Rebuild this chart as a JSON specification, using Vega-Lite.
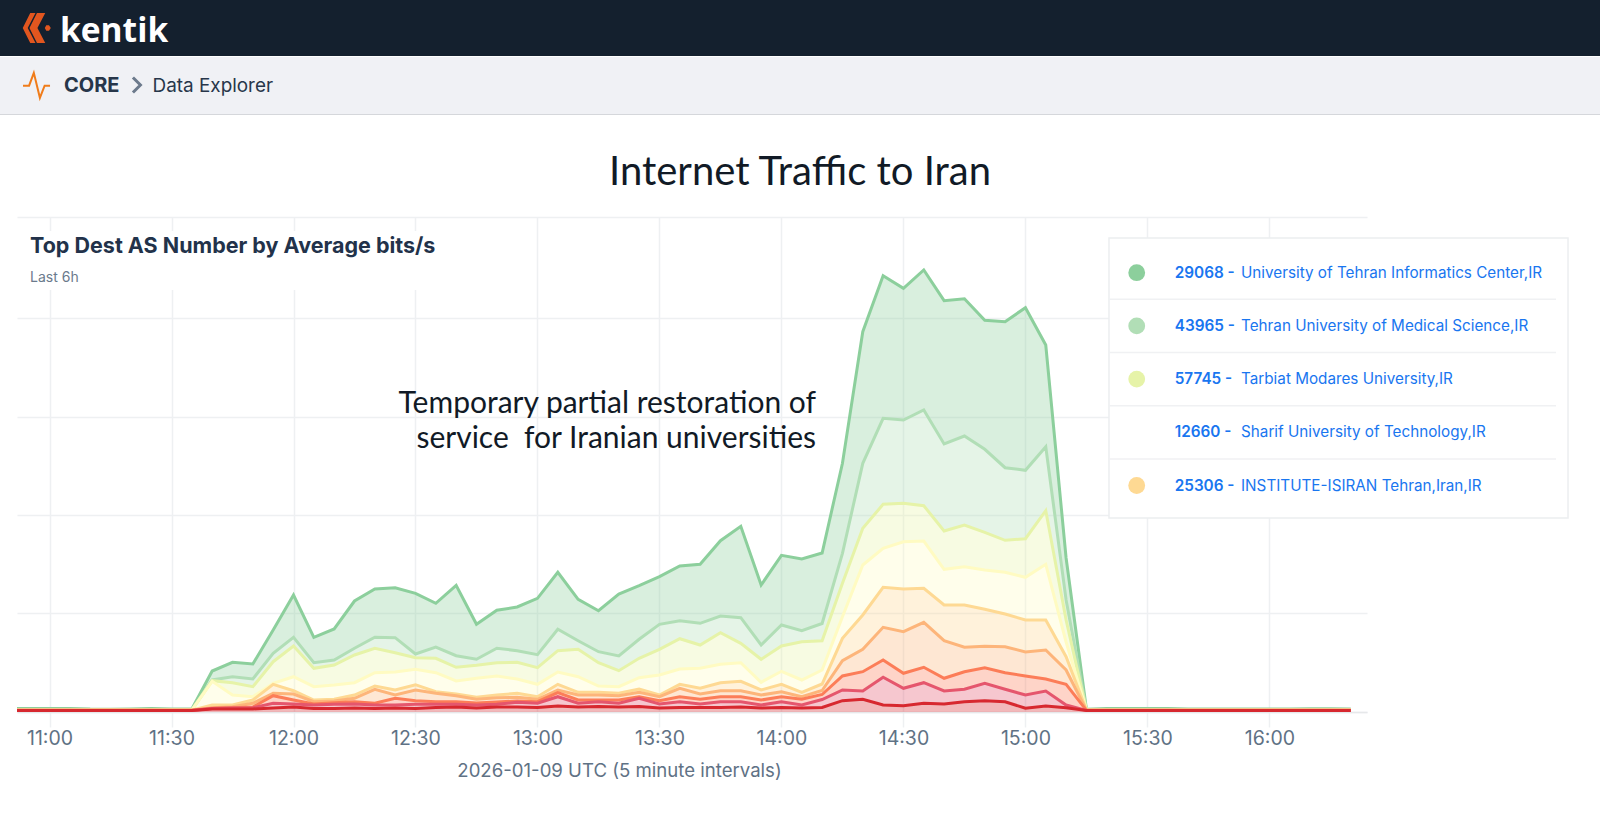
{
"$schema": "https://vega.github.io/schema/vega-lite/v6.json",
"width": 1350,
"height": 495,
"autosize": {"type": "none"},
"padding": {"left": 17, "top": 217, "right": 233, "bottom": 101},
"background": "white",
"config": {"view": {"stroke": null}, "font": "Inter"},
"datasets": {
  "page": [{"part": "page"}],
  "traffic": [
    {"time":"2026-01-09T10:50:00Z","1_29068":1.2,"2_43965":0.1,"3_57745":0.1,"4_12660":0.1,"5_25306":0.1,"6_other":0.1,"7_other":0.1,"8_other":0.1,"9_other":1.5},
    {"time":"2026-01-09T10:55:00Z","1_29068":1.2,"2_43965":0.1,"3_57745":0.1,"4_12660":0.1,"5_25306":0.1,"6_other":0.1,"7_other":0.1,"8_other":0.1,"9_other":1.5},
    {"time":"2026-01-09T11:00:00Z","1_29068":1.3,"2_43965":0.1,"3_57745":0.1,"4_12660":0.1,"5_25306":0.1,"6_other":0.1,"7_other":0.1,"8_other":0.1,"9_other":1.5},
    {"time":"2026-01-09T11:05:00Z","1_29068":1.4,"2_43965":0.1,"3_57745":0.1,"4_12660":0.1,"5_25306":0.1,"6_other":0.1,"7_other":0.1,"8_other":0.1,"9_other":1.5},
    {"time":"2026-01-09T11:10:00Z","1_29068":0.7,"2_43965":0.1,"3_57745":0.1,"4_12660":0.1,"5_25306":0.1,"6_other":0.1,"7_other":0.1,"8_other":0.1,"9_other":1.5},
    {"time":"2026-01-09T11:15:00Z","1_29068":0.6,"2_43965":0.1,"3_57745":0.1,"4_12660":0.1,"5_25306":0.1,"6_other":0.1,"7_other":0.1,"8_other":0.1,"9_other":1.5},
    {"time":"2026-01-09T11:20:00Z","1_29068":0.9,"2_43965":0.1,"3_57745":0.1,"4_12660":0.1,"5_25306":0.1,"6_other":0.1,"7_other":0.1,"8_other":0.1,"9_other":1.5},
    {"time":"2026-01-09T11:25:00Z","1_29068":1.2,"2_43965":0.1,"3_57745":0.1,"4_12660":0.1,"5_25306":0.1,"6_other":0.1,"7_other":0.1,"8_other":0.1,"9_other":1.5},
    {"time":"2026-01-09T11:30:00Z","1_29068":0.8,"2_43965":0.1,"3_57745":0.1,"4_12660":0.1,"5_25306":0.1,"6_other":0.1,"7_other":0.1,"8_other":0.1,"9_other":1.5},
    {"time":"2026-01-09T11:35:00Z","1_29068":0.8,"2_43965":0.1,"3_57745":0.1,"4_12660":0.1,"5_25306":0.1,"6_other":0.1,"7_other":0.1,"8_other":0.1,"9_other":1.5},
    {"time":"2026-01-09T11:40:00Z","1_29068":9,"2_43965":0.7,"3_57745":0.6,"4_12660":23.7,"5_25306":2.7,"6_other":0.6,"7_other":0.2,"8_other":0.5,"9_other":3},
    {"time":"2026-01-09T11:45:00Z","1_29068":14.4,"2_43965":6,"3_57745":12.3,"4_12660":10,"5_25306":1.7,"6_other":1,"7_other":0.3,"8_other":1,"9_other":3},
    {"time":"2026-01-09T11:50:00Z","1_29068":15,"2_43965":7.7,"3_57745":10,"4_12660":3.3,"5_25306":3.3,"6_other":3.7,"7_other":0.7,"8_other":1.3,"9_other":3},
    {"time":"2026-01-09T11:55:00Z","1_29068":23.3,"2_43965":8.4,"3_57745":21.6,"4_12660":1,"5_25306":9,"6_other":2.4,"7_other":7.6,"8_other":4.7,"9_other":4},
    {"time":"2026-01-09T12:00:00Z","1_29068":42.3,"2_43965":8.7,"3_57745":30.7,"4_12660":14,"5_25306":3.3,"6_other":6,"7_other":4,"8_other":3,"9_other":5},
    {"time":"2026-01-09T12:05:00Z","1_29068":25.4,"2_43965":5.6,"3_57745":18.4,"4_12660":13.3,"5_25306":1.7,"6_other":2.3,"7_other":1,"8_other":3.5,"9_other":3.5},
    {"time":"2026-01-09T12:10:00Z","1_29068":31,"2_43965":5,"3_57745":20,"4_12660":14.3,"5_25306":1.7,"6_other":1.7,"7_other":1.6,"8_other":4.2,"9_other":3.5},
    {"time":"2026-01-09T12:15:00Z","1_29068":47.3,"2_43965":6.7,"3_57745":27.7,"4_12660":12.3,"5_25306":3.3,"6_other":3.4,"7_other":2.3,"8_other":4,"9_other":4},
    {"time":"2026-01-09T12:20:00Z","1_29068":48.3,"2_43965":11,"3_57745":24.4,"4_12660":13.3,"5_25306":3.3,"6_other":14,"7_other":1.7,"8_other":3.5,"9_other":3.5},
    {"time":"2026-01-09T12:25:00Z","1_29068":50,"2_43965":15,"3_57745":19.3,"4_12660":18,"5_25306":5,"6_other":3.3,"7_other":6.7,"8_other":3,"9_other":4},
    {"time":"2026-01-09T12:30:00Z","1_29068":60.7,"2_43965":3.7,"3_57745":11.6,"4_12660":15.4,"5_25306":5.3,"6_other":10.7,"7_other":3.6,"8_other":4.2,"9_other":3.5},
    {"time":"2026-01-09T12:35:00Z","1_29068":43.7,"2_43965":11.3,"3_57745":14.4,"4_12660":19,"5_25306":1.6,"6_other":8.4,"7_other":2.6,"8_other":3.2,"9_other":4.5},
    {"time":"2026-01-09T12:40:00Z","1_29068":70.4,"2_43965":11.6,"3_57745":13.7,"4_12660":13,"5_25306":1.7,"6_other":6,"7_other":2.6,"8_other":2.7,"9_other":5},
    {"time":"2026-01-09T12:45:00Z","1_29068":35,"2_43965":6,"3_57745":13,"4_12660":19,"5_25306":2,"6_other":3.7,"7_other":2,"8_other":3,"9_other":4},
    {"time":"2026-01-09T12:50:00Z","1_29068":38,"2_43965":14.4,"3_57745":13.3,"4_12660":19,"5_25306":2.7,"6_other":4.3,"7_other":2.3,"8_other":2.7,"9_other":5},
    {"time":"2026-01-09T12:55:00Z","1_29068":43.7,"2_43965":11.6,"3_57745":16.7,"4_12660":14.3,"5_25306":4,"6_other":3.7,"7_other":1.3,"8_other":4.7,"9_other":5},
    {"time":"2026-01-09T13:00:00Z","1_29068":56.4,"2_43965":13,"3_57745":16.6,"4_12660":12.4,"5_25306":2.6,"6_other":2.4,"7_other":1.6,"8_other":4.2,"9_other":4.5},
    {"time":"2026-01-09T13:05:00Z","1_29068":57,"2_43965":21.4,"3_57745":21.3,"4_12660":12.3,"5_25306":5.7,"6_other":2.7,"7_other":4,"8_other":9.3,"9_other":6},
    {"time":"2026-01-09T13:10:00Z","1_29068":41.4,"2_43965":8.6,"3_57745":27.4,"4_12660":15.6,"5_25306":2.7,"6_other":5,"7_other":3.3,"8_other":3.7,"9_other":5},
    {"time":"2026-01-09T13:15:00Z","1_29068":41,"2_43965":11,"3_57745":23.3,"4_12660":6.3,"5_25306":2.7,"6_other":5,"7_other":1.7,"8_other":4.8,"9_other":5.5},
    {"time":"2026-01-09T13:20:00Z","1_29068":62,"2_43965":14.7,"3_57745":16,"4_12660":6.6,"5_25306":2.4,"6_other":4.3,"7_other":3.3,"8_other":3.7,"9_other":5},
    {"time":"2026-01-09T13:25:00Z","1_29068":53.6,"2_43965":19,"3_57745":19.4,"4_12660":11.3,"5_25306":3.3,"6_other":4.4,"7_other":1.6,"8_other":8.2,"9_other":5.5},
    {"time":"2026-01-09T13:30:00Z","1_29068":47.6,"2_43965":25,"3_57745":25.7,"4_12660":20,"5_25306":1.7,"6_other":4,"7_other":3.3,"8_other":4,"9_other":4},
    {"time":"2026-01-09T13:35:00Z","1_29068":54.7,"2_43965":18,"3_57745":30.3,"4_12660":15.3,"5_25306":4,"6_other":8.4,"7_other":5,"8_other":5.8,"9_other":4.5},
    {"time":"2026-01-09T13:40:00Z","1_29068":59,"2_43965":21.7,"3_57745":23.3,"4_12660":20,"5_25306":5.7,"6_other":5.3,"7_other":4.7,"8_other":3.5,"9_other":4.5},
    {"time":"2026-01-09T13:45:00Z","1_29068":75.3,"2_43965":16.7,"3_57745":31.6,"4_12660":18.4,"5_25306":8,"6_other":6,"7_other":5,"8_other":5.8,"9_other":4.5},
    {"time":"2026-01-09T13:50:00Z","1_29068":91.4,"2_43965":25.6,"3_57745":19.4,"4_12660":18.6,"5_25306":9.4,"6_other":6,"7_other":5,"8_other":5.3,"9_other":5},
    {"time":"2026-01-09T13:55:00Z","1_29068":60,"2_43965":14.3,"3_57745":23,"4_12660":7.7,"5_25306":5,"6_other":5,"7_other":5,"8_other":3,"9_other":4},
    {"time":"2026-01-09T14:00:00Z","1_29068":69.7,"2_43965":21,"3_57745":25.3,"4_12660":13,"5_25306":7.4,"6_other":5,"7_other":5,"8_other":5.8,"9_other":4.5},
    {"time":"2026-01-09T14:05:00Z","1_29068":71.7,"2_43965":11,"3_57745":38.3,"4_12660":12.3,"5_25306":4.4,"6_other":2.6,"7_other":5.7,"8_other":3,"9_other":4},
    {"time":"2026-01-09T14:10:00Z","1_29068":70.5,"2_43965":17.2,"3_57745":29.3,"4_12660":14,"5_25306":6.5,"6_other":4,"7_other":5,"8_other":8,"9_other":4.5},
    {"time":"2026-01-09T14:15:00Z","1_29068":90,"2_43965":30,"3_57745":33.4,"4_12660":21.6,"5_25306":22.4,"6_other":15.3,"7_other":14,"8_other":10.7,"9_other":11.3},
    {"time":"2026-01-09T14:20:00Z","1_29068":131.6,"2_43965":65,"3_57745":36.7,"4_12660":50,"5_25306":34.3,"6_other":22.4,"7_other":19.3,"8_other":8.3,"9_other":12.7},
    {"time":"2026-01-09T14:25:00Z","1_29068":142.6,"2_43965":86,"3_57745":44,"4_12660":39,"5_25306":40,"6_other":32.7,"7_other":17.3,"8_other":27.7,"9_other":7},
    {"time":"2026-01-09T14:30:00Z","1_29068":131.7,"2_43965":83.3,"3_57745":38.4,"4_12660":47.3,"5_25306":42.7,"6_other":41.6,"7_other":15,"8_other":17.4,"9_other":6.3},
    {"time":"2026-01-09T14:35:00Z","1_29068":140,"2_43965":95.7,"3_57745":35.3,"4_12660":47.3,"5_25306":34,"6_other":45,"7_other":15.4,"8_other":20.6,"9_other":8.7},
    {"time":"2026-01-09T14:40:00Z","1_29068":143.3,"2_43965":87,"3_57745":38.3,"4_12660":35.7,"5_25306":35.7,"6_other":37.6,"7_other":12.7,"8_other":13,"9_other":8},
    {"time":"2026-01-09T14:45:00Z","1_29068":137.3,"2_43965":89,"3_57745":41.7,"4_12660":38.3,"5_25306":42.3,"6_other":24.4,"7_other":17.6,"8_other":12.4,"9_other":10.3},
    {"time":"2026-01-09T14:50:00Z","1_29068":129,"2_43965":83,"3_57745":37.7,"4_12660":39.3,"5_25306":37,"6_other":21.4,"7_other":15.6,"8_other":17.4,"9_other":11.3},
    {"time":"2026-01-09T14:55:00Z","1_29068":146,"2_43965":72.6,"3_57745":32,"4_12660":41.7,"5_25306":32.7,"6_other":26,"7_other":16.6,"8_other":12.4,"9_other":10.3},
    {"time":"2026-01-09T15:00:00Z","1_29068":162.6,"2_43965":68.4,"3_57745":38.6,"4_12660":42.7,"5_25306":32,"6_other":24,"7_other":19,"8_other":13.3,"9_other":3.7},
    {"time":"2026-01-09T15:05:00Z","1_29068":101.7,"2_43965":64,"3_57745":53.6,"4_12660":55.7,"5_25306":30,"6_other":29,"7_other":12,"8_other":15,"9_other":6},
    {"time":"2026-01-09T15:10:00Z","1_29068":42,"2_43965":20,"3_57745":22,"4_12660":14.7,"5_25306":13.3,"6_other":14.3,"7_other":20.7,"8_other":2.7,"9_other":4.3},
    {"time":"2026-01-09T15:15:00Z","1_29068":0.5,"2_43965":0.1,"3_57745":0.1,"4_12660":0.1,"5_25306":0.1,"6_other":0.1,"7_other":0.1,"8_other":0.1,"9_other":1.5},
    {"time":"2026-01-09T15:20:00Z","1_29068":1.2,"2_43965":0.1,"3_57745":0.1,"4_12660":0.1,"5_25306":0.1,"6_other":0.1,"7_other":0.1,"8_other":0.1,"9_other":1.5},
    {"time":"2026-01-09T15:25:00Z","1_29068":1.3,"2_43965":0.1,"3_57745":0.1,"4_12660":0.1,"5_25306":0.1,"6_other":0.1,"7_other":0.1,"8_other":0.1,"9_other":1.5},
    {"time":"2026-01-09T15:30:00Z","1_29068":1.3,"2_43965":0.1,"3_57745":0.1,"4_12660":0.1,"5_25306":0.1,"6_other":0.1,"7_other":0.1,"8_other":0.1,"9_other":1.5},
    {"time":"2026-01-09T15:35:00Z","1_29068":1.2,"2_43965":0.1,"3_57745":0.1,"4_12660":0.1,"5_25306":0.1,"6_other":0.1,"7_other":0.1,"8_other":0.1,"9_other":1.5},
    {"time":"2026-01-09T15:40:00Z","1_29068":0.9,"2_43965":0.1,"3_57745":0.1,"4_12660":0.1,"5_25306":0.1,"6_other":0.1,"7_other":0.1,"8_other":0.1,"9_other":1.5},
    {"time":"2026-01-09T15:45:00Z","1_29068":0.8,"2_43965":0.1,"3_57745":0.1,"4_12660":0.1,"5_25306":0.1,"6_other":0.1,"7_other":0.1,"8_other":0.1,"9_other":1.5},
    {"time":"2026-01-09T15:50:00Z","1_29068":0.8,"2_43965":0.1,"3_57745":0.1,"4_12660":0.1,"5_25306":0.1,"6_other":0.1,"7_other":0.1,"8_other":0.1,"9_other":1.5},
    {"time":"2026-01-09T15:55:00Z","1_29068":0.9,"2_43965":0.1,"3_57745":0.1,"4_12660":0.1,"5_25306":0.1,"6_other":0.1,"7_other":0.1,"8_other":0.1,"9_other":1.5},
    {"time":"2026-01-09T16:00:00Z","1_29068":0.8,"2_43965":0.1,"3_57745":0.1,"4_12660":0.1,"5_25306":0.1,"6_other":0.1,"7_other":0.1,"8_other":0.1,"9_other":1.5},
    {"time":"2026-01-09T16:05:00Z","1_29068":0.9,"2_43965":0.1,"3_57745":0.1,"4_12660":0.1,"5_25306":0.1,"6_other":0.1,"7_other":0.1,"8_other":0.1,"9_other":1.5},
    {"time":"2026-01-09T16:10:00Z","1_29068":1.1,"2_43965":0.1,"3_57745":0.1,"4_12660":0.1,"5_25306":0.1,"6_other":0.1,"7_other":0.1,"8_other":0.1,"9_other":1.5},
    {"time":"2026-01-09T16:15:00Z","1_29068":1.0,"2_43965":0.1,"3_57745":0.1,"4_12660":0.1,"5_25306":0.1,"6_other":0.1,"7_other":0.1,"8_other":0.1,"9_other":1.5},
    {"time":"2026-01-09T16:20:00Z","1_29068":0.8,"2_43965":0.1,"3_57745":0.1,"4_12660":0.1,"5_25306":0.1,"6_other":0.1,"7_other":0.1,"8_other":0.1,"9_other":1.5}
  ],
  "legendRows": [
    {"series":"1_29068","asn":"29068 -","name":"University of Tehran Informatics Center,IR"},
    {"series":"2_43965","asn":"43965 -","name":"Tehran University of Medical Science,IR"},
    {"series":"3_57745","asn":"57745 -","name":"Tarbiat Modares University,IR"},
    {"series":"4_12660","asn":"12660 -","name":"Sharif University of Technology,IR"},
    {"series":"5_25306","asn":"25306 -","name":"INSTITUTE-ISIRAN Tehran,Iran,IR"}
  ]
},
"layer": [
  {
    "data": {"name": "traffic"},
    "transform": [
      {"fold": ["1_29068","2_43965","3_57745","4_12660","5_25306","6_other","7_other","8_other","9_other"], "as": ["series","bits"]}
    ],
    "encoding": {
      "x": {"field": "time", "type": "temporal",
        "scale": {"type": "utc", "nice": false, "domain": [1767955920000, 1767975840000]},
        "axis": {"title": "2026-01-09 UTC (5 minute intervals)", "titleFont": "Inter", "titleFontSize": 18.6, "titleFontWeight": 400, "titleColor": "#5f7285", "titleX": 602, "titleY": 49, "titleAnchor": "middle", "format": "%H:%M", "values": [1767956400000, 1767958200000, 1767960000000, 1767961800000, 1767963600000, 1767965400000, 1767967200000, 1767969000000, 1767970800000, 1767972600000, 1767974400000], "grid": true, "gridColor": "#eef0f2", "gridWidth": 1.5, "tickColor": "#eef0f2", "tickWidth": 1.5, "tickSize": 15, "domainColor": "#e6e8ea", "domainWidth": 1.5, "labelFont": "Inter", "labelFontSize": 19.5, "labelColor": "#5f7285", "labelPadding": 2, "labelFlush": false}},
      "y": {"field": "bits", "type": "quantitative", "stack": "zero",
        "scale": {"nice": false, "zero": false, "domain": [0, 495]},
        "axis": {"title": null, "labels": false, "ticks": false, "domain": false, "values": [0, 98.5, 197, 295.5, 394, 495], "grid": true, "gridColor": "#eef0f2", "gridWidth": 1.5}},
      "color": {"field": "series", "type": "nominal", "legend": null,
        "scale": {"domain": ["1_29068","2_43965","3_57745","4_12660","5_25306","6_other","7_other","8_other","9_other"],
          "range": ["#8ccf9c","#b1deb6","#e6f3a8","#fffbc2","#fed993","#fdb57a","#fc7d58","#e5566d","#d7282f"]}}
    },
    "layer": [
      {"mark": {"type": "area", "opacity": 0.33, "clip": true}},
      {"mark": {"type": "line", "strokeWidth": 3, "clip": true}}
    ]
  },
  {
    "data": {"name": "page"},
    "mark": {"type": "rect", "color": "#14202e"},
    "encoding": {
      "x": {"datum": 1767955669000, "type": "temporal"},
      "x2": {"datum": 1767979278000},
      "y": {"datum": 712, "type": "quantitative"},
      "y2": {"datum": 656}
    }
  },
  {
    "data": {"name": "page"},
    "mark": {"type": "rect", "color": "#f0f1f5"},
    "encoding": {
      "x": {"datum": 1767955669000, "type": "temporal"},
      "x2": {"datum": 1767979278000},
      "y": {"datum": 655, "type": "quantitative"},
      "y2": {"datum": 598}
    }
  },
  {
    "data": {"name": "page"},
    "mark": {"type": "rule", "color": "#d5d7db", "strokeWidth": 1.2},
    "encoding": {
      "x": {"datum": 1767955669000, "type": "temporal"},
      "x2": {"datum": 1767979278000},
      "y": {"datum": 597.5, "type": "quantitative"}
    }
  },
  {
    "data": {"name": "page"},
    "mark": {"type": "point", "filled": true, "color": "#e2561f", "opacity": 1, "size": 900, "shape": "M-0.45 -1 L-0.1 -1 L-0.62 0 L-0.1 1 L-0.45 1 L-0.95 0 Z M0 -1 L0.55 -1 L0.03 0 L0.55 1 L0 1 L-0.5 0 Z M0.62 -0.18 L0.8 -0.18 L0.92 0 L0.8 0.18 L0.62 0.18 L0.52 0 Z"},
    "encoding": {
      "x": {"datum": 1767956215000, "type": "temporal"},
      "y": {"datum": 684, "type": "quantitative"}
    }
  },
  {
    "data": {"values": [{"label": "kentik"}]},
    "mark": {"type": "text", "align": "left", "baseline": "alphabetic", "font": "Open Sans", "fontSize": 33.5, "fontWeight": 700, "color": "white"},
    "encoding": {
      "x": {"datum": 1767956555000, "type": "temporal"},
      "y": {"datum": 670, "type": "quantitative"},
      "text": {"field": "label"}
    }
  },
  {
    "data": {"name": "page"},
    "mark": {"type": "point", "filled": false, "stroke": "#f07c1a", "strokeWidth": 2, "opacity": 1, "size": 729, "shape": "M-1 0.05 L-0.55 0.05 L-0.2 -0.9 L0.25 0.95 L0.6 0.05 L1 0.05"},
    "encoding": {
      "x": {"datum": 1767956208000, "type": "temporal"},
      "y": {"datum": 627, "type": "quantitative"}
    }
  },
  {
    "data": {"values": [{"label": "CORE"}]},
    "mark": {"type": "text", "align": "left", "baseline": "alphabetic", "font": "Inter", "fontSize": 20, "fontWeight": 700, "color": "#27364a"},
    "encoding": {
      "x": {"datum": 1767956613000, "type": "temporal"},
      "y": {"datum": 620, "type": "quantitative"},
      "text": {"field": "label"}
    }
  },
  {
    "data": {"name": "page"},
    "mark": {"type": "point", "filled": false, "stroke": "#6c7a8c", "strokeWidth": 3, "opacity": 1, "size": 225, "shape": "M-0.5 -1 L0.5 0 L-0.5 1"},
    "encoding": {
      "x": {"datum": 1767957686000, "type": "temporal"},
      "y": {"datum": 627, "type": "quantitative"}
    }
  },
  {
    "data": {"values": [{"label": "Data Explorer"}]},
    "mark": {"type": "text", "align": "left", "baseline": "alphabetic", "font": "Inter", "fontSize": 18.9, "fontWeight": 400, "color": "#27364a"},
    "encoding": {
      "x": {"datum": 1767957920000, "type": "temporal"},
      "y": {"datum": 620, "type": "quantitative"},
      "text": {"field": "label"}
    }
  },
  {
    "data": {"values": [{"label": "Internet Traffic to Iran"}]},
    "mark": {"type": "text", "align": "center", "baseline": "alphabetic", "font": "Lato", "fontSize": 40, "fontWeight": 400, "color": "#111a26"},
    "encoding": {
      "x": {"datum": 1767967474000, "type": "temporal"},
      "y": {"datum": 527, "type": "quantitative"},
      "text": {"field": "label"}
    }
  },
  {
    "data": {"name": "page"},
    "mark": {"type": "rect", "color": "white"},
    "encoding": {
      "x": {"datum": 1767955920000, "type": "temporal"},
      "x2": {"datum": 1767961830000},
      "y": {"datum": 481, "type": "quantitative"},
      "y2": {"datum": 422}
    }
  },
  {
    "data": {"values": [{"label": "Top Dest AS Number by Average bits/s"}]},
    "mark": {"type": "text", "align": "left", "baseline": "alphabetic", "font": "Inter", "fontSize": 21.5, "fontWeight": 700, "color": "#22324a"},
    "encoding": {
      "x": {"datum": 1767956112000, "type": "temporal"},
      "y": {"datum": 459, "type": "quantitative"},
      "text": {"field": "label"}
    }
  },
  {
    "data": {"values": [{"label": "Last 6h"}]},
    "mark": {"type": "text", "align": "left", "baseline": "alphabetic", "font": "Inter", "fontSize": 14, "fontWeight": 400, "color": "#6b7a8c"},
    "encoding": {
      "x": {"datum": 1767956112000, "type": "temporal"},
      "y": {"datum": 430, "type": "quantitative"},
      "text": {"field": "label"}
    }
  },
  {
    "data": {"name": "page"},
    "mark": {"type": "text", "align": "right", "baseline": "alphabetic", "font": "Lato", "fontSize": 30, "lineHeight": 35, "color": "#111a26", "text": ["Temporary partial restoration of", "service\u00a0 for Iranian universities"]},
    "encoding": {
      "x": {"datum": 1767967710000, "type": "temporal"},
      "y": {"datum": 299, "type": "quantitative"}
    }
  },
  {
    "data": {"name": "page"},
    "mark": {"type": "rect", "color": "white", "stroke": "#eceef0", "strokeWidth": 1.5},
    "encoding": {
      "x": {"datum": 1767972033000, "type": "temporal"},
      "x2": {"datum": 1767978806000},
      "y": {"datum": 474, "type": "quantitative"},
      "y2": {"datum": 194}
    }
  },
  {
    "data": {"name": "legendRows"},
    "transform": [{"filter": "datum.series != '5_25306'"}],
    "mark": {"type": "rule", "color": "#f0f1f3", "strokeWidth": 1.5},
    "encoding": {
      "x": {"datum": 1767972033000, "type": "temporal"},
      "x2": {"datum": 1767978629000},
      "y": {"datum": 412.7, "type": "quantitative"},
      "yOffset": {"field": "series", "type": "nominal", "scale": {"type": "point", "padding": 0, "domain": ["1_29068","2_43965","3_57745","4_12660","5_25306"], "range": [0, 212.8]}}
    }
  },
  {
    "data": {"name": "legendRows"},
    "transform": [{"filter": "datum.series != '4_12660'"}],
    "mark": {"type": "point", "filled": true, "opacity": 1, "size": 283, "shape": "circle"},
    "encoding": {
      "x": {"datum": 1767972442000, "type": "temporal"},
      "y": {"datum": 439.3, "type": "quantitative"},
      "yOffset": {"field": "series", "type": "nominal", "scale": {"type": "point", "padding": 0, "domain": ["1_29068","2_43965","3_57745","4_12660","5_25306"], "range": [0, 212.8]}},
      "color": {"field": "series", "type": "nominal", "legend": null}
    }
  },
  {
    "data": {"name": "legendRows"},
    "mark": {"type": "text", "align": "left", "baseline": "middle", "font": "Inter", "fontSize": 15.3, "fontWeight": 600, "color": "#1976f0"},
    "encoding": {
      "x": {"datum": 1767973003000, "type": "temporal"},
      "y": {"datum": 439.3, "type": "quantitative"},
      "yOffset": {"field": "series", "type": "nominal", "scale": {"type": "point", "padding": 0, "domain": ["1_29068","2_43965","3_57745","4_12660","5_25306"], "range": [0, 212.8]}},
      "text": {"field": "asn"}
    }
  },
  {
    "data": {"name": "legendRows"},
    "mark": {"type": "text", "align": "left", "baseline": "middle", "font": "Inter", "fontSize": 15.25, "fontWeight": 400, "color": "#1976f0"},
    "encoding": {
      "x": {"datum": 1767973981000, "type": "temporal"},
      "y": {"datum": 439.3, "type": "quantitative"},
      "yOffset": {"field": "series", "type": "nominal", "scale": {"type": "point", "padding": 0, "domain": ["1_29068","2_43965","3_57745","4_12660","5_25306"], "range": [0, 212.8]}},
      "text": {"field": "name"}
    }
  }
]
}
